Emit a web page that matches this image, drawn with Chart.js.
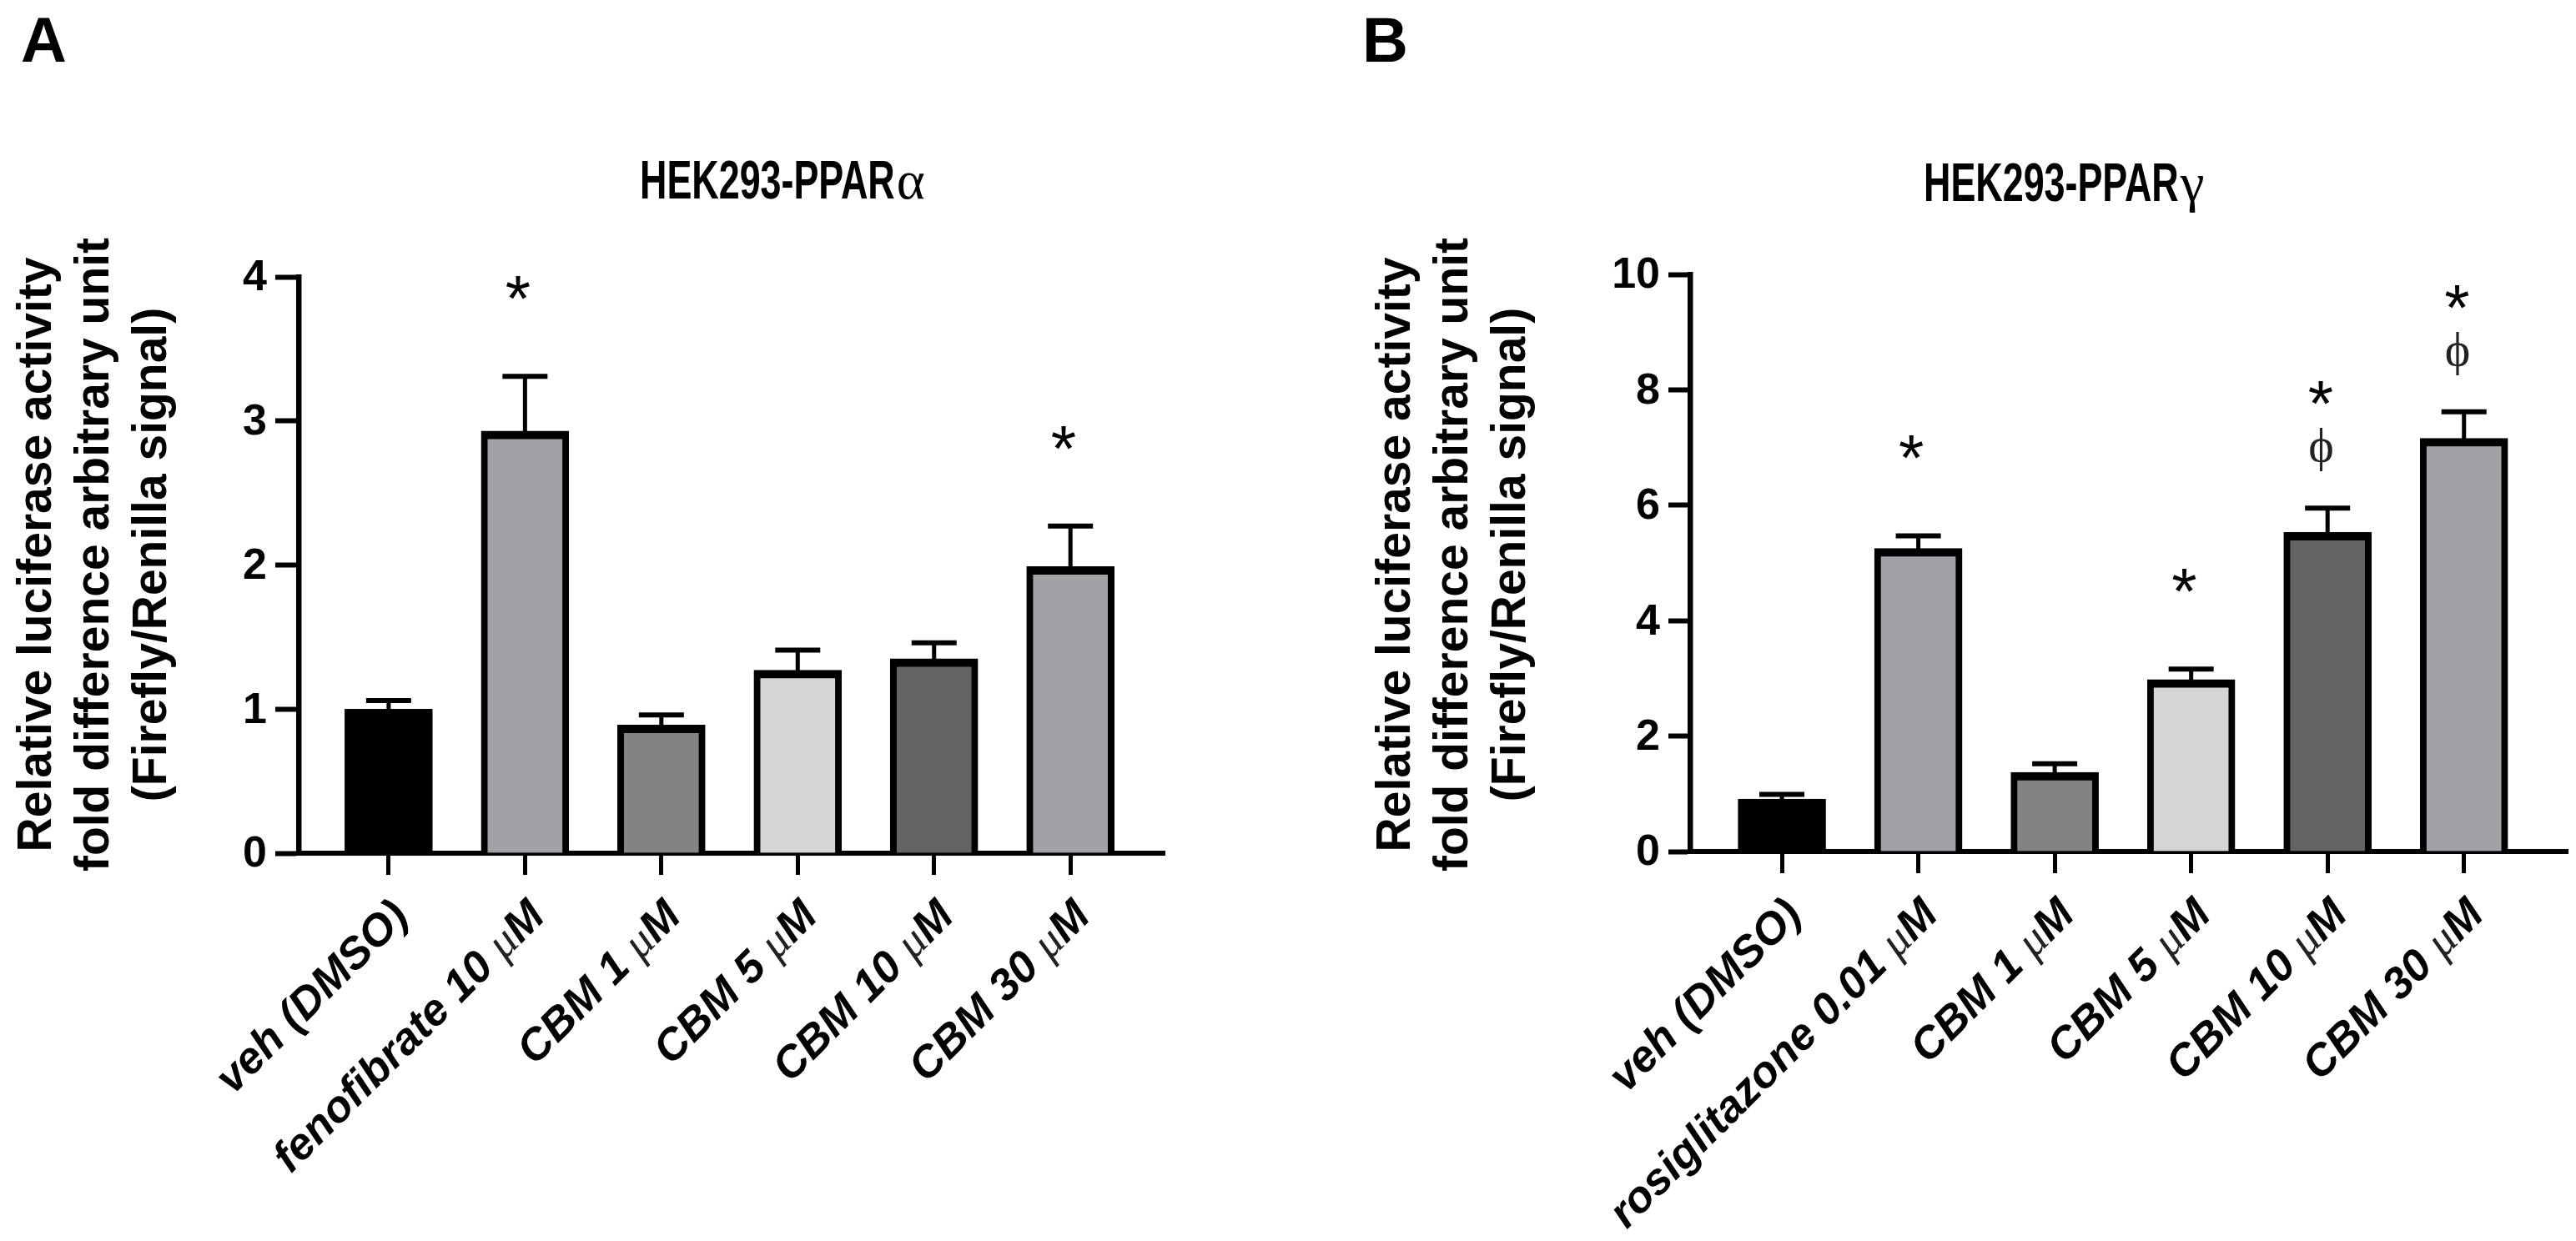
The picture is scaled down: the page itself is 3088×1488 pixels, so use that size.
<!DOCTYPE html>
<html>
<head>
<meta charset="utf-8">
<script src="https://cdn.jsdelivr.net/npm/chart.js@4.4.1/dist/chart.umd.min.js"></script>
<style>
html, body { margin: 0; padding: 0; background: #ffffff; }
#wrap { position: relative; width: 3088px; height: 1488px; background: #ffffff; }
.panel { position: absolute; top: 0; width: 1544px; height: 1488px; }
</style>
</head>
<body>
<div id="wrap">
  <div class="panel" style="left:0px;"><canvas id="chartA"></canvas></div>
  <div class="panel" style="left:1544px;"><canvas id="chartB"></canvas></div>
</div>
<script>
// ---------------- data ----------------
const categoriesA = ['veh (DMSO)', 'fenofibrate 10 μM', 'CBM 1 μM', 'CBM 5 μM', 'CBM 10 μM', 'CBM 30 μM'];
const valuesA = [1.00, 2.93, 0.89, 1.27, 1.35, 1.99];
const errorsA = [0.06, 0.38, 0.07, 0.14, 0.11, 0.28];
const starsA = [false, true, false, false, false, true];
const phiA = [false, false, false, false, false, false];
const yTicksA = [0, 1, 2, 3, 4];

const categoriesB = ['veh (DMSO)', 'rosiglitazone 0.01 μM', 'CBM 1 μM', 'CBM 5 μM', 'CBM 10 μM', 'CBM 30 μM'];
const valuesB = [0.91, 5.25, 1.37, 2.98, 5.53, 7.16];
const errorsB = [0.08, 0.22, 0.15, 0.18, 0.42, 0.46];
const starsB = [false, true, false, true, true, true];
const phiB = [false, false, false, false, true, true];
const yTicksB = [0, 2, 4, 6, 8, 10];

const titleA = ['HEK293-PPAR', 'α'];
const titleB = ['HEK293-PPAR', 'γ'];
const yTitleLines = ['Relative luciferase activity', 'fold difference arbitrary unit', '(Firefly/Renilla signal)'];

// ---------------- styles ----------------
const barColors = ['#000000', '#a2a2a6', '#838383', '#d5d5d5', '#636363', '#a2a2a6'];
const SANS = '"Liberation Sans", Arial, Helvetica, sans-serif';
const SERIF = '"Liberation Serif", "Times New Roman", "DejaVu Serif", serif';

function drawCentered(ctx, txt, font, cx, cy, color) {
  ctx.save();
  ctx.font = font;
  ctx.fillStyle = color || '#000';
  ctx.textAlign = 'left';
  ctx.textBaseline = 'alphabetic';
  const m = ctx.measureText(txt);
  const x = cx - (m.actualBoundingBoxRight - m.actualBoundingBoxLeft) / 2;
  const y = cy + (m.actualBoundingBoxAscent - m.actualBoundingBoxDescent) / 2;
  ctx.fillText(txt, x, y);
  ctx.restore();
}

function drawRotatedLabel(ctx, label, px, py) {
  const fMain = 'italic bold 53px ' + SANS;
  const fMu = 'italic 55px ' + SERIF;
  const k = label.indexOf('μ');
  ctx.save();
  ctx.translate(px, py);
  ctx.rotate(-Math.PI / 4);
  ctx.fillStyle = '#000';
  ctx.textAlign = 'right';
  ctx.textBaseline = 'alphabetic';
  if (k < 0) {
    ctx.font = fMain;
    ctx.fillText(label, 0, 0);
  } else {
    const before = label.slice(0, k);
    const after = label.slice(k + 1);
    ctx.font = fMain;
    const wA = ctx.measureText(after).width;
    ctx.fillText(after, 0, 0);
    ctx.font = fMu;
    const wM = ctx.measureText('μ').width;
    ctx.fillStyle = '#222';
    ctx.fillText('μ', -wA, 0);
    ctx.fillStyle = '#000';
    ctx.font = fMain;
    ctx.fillText(before, -wA - wM, 0);
  }
  ctx.restore();
}

const decorPlugin = {
  id: 'decor',
  afterDatasetsDraw(chart, args, o) {
    const ctx = chart.ctx;
    const xs = chart.scales.x, ys = chart.scales.y;
    ctx.save();
    ctx.strokeStyle = '#000';
    ctx.lineCap = 'butt';
    o.values.forEach((v, i) => {
      const x = xs.getPixelForValue(i);
      const yTop = ys.getPixelForValue(v);
      const yCap = ys.getPixelForValue(v + o.errors[i]);
      ctx.lineWidth = 5;
      ctx.beginPath();
      ctx.moveTo(x, yTop + 2);
      ctx.lineTo(x, yCap);
      ctx.stroke();
      ctx.lineWidth = 6;
      ctx.beginPath();
      ctx.moveTo(x - 27, yCap);
      ctx.lineTo(x + 27, yCap);
      ctx.stroke();
    });
    ctx.restore();
  },
  afterDraw(chart, args, o) {
    const ctx = chart.ctx;
    const xs = chart.scales.x, ys = chart.scales.y;
    const ca = chart.chartArea;
    ctx.save();
    ctx.fillStyle = '#000';
    // y tick labels
    ctx.font = 'bold 52px ' + SANS;
    ctx.textAlign = 'right';
    ctx.textBaseline = 'middle';
    ys.ticks.forEach(t => {
      const y = ys.getPixelForValue(t.value);
      ctx.fillText(String(t.value), ca.left - o.tickLen - 3 - o.labelPad, y + 2);
    });
    // x labels
    xs.ticks.forEach(t => {
      const i = t.value;
      const x = xs.getPixelForValue(i);
      drawRotatedLabel(ctx, o.categories[i], x + o.lblDx, ca.bottom + o.lblDy);
    });
    // significance marks
    const fStar = '78px ' + SANS;
    const fPhi = '58px ' + SERIF;
    o.values.forEach((v, i) => {
      const x = xs.getPixelForValue(i) - 8;
      const capPx = ys.getPixelForValue(v + o.errors[i]);
      if (o.phi[i]) {
        drawCentered(ctx, 'ϕ', fPhi, x, capPx - 70, '#222');
        drawCentered(ctx, '*', fStar, x, capPx - 138, '#000');
      } else if (o.stars[i]) {
        drawCentered(ctx, '*', fStar, x, capPx - 106, '#000');
      }
    });
    // title
    const sx = 0.69;
    ctx.textAlign = 'left';
    ctx.textBaseline = 'alphabetic';
    ctx.font = 'bold 65px ' + SANS;
    const wMain = ctx.measureText(o.title[0]).width * sx;
    ctx.save();
    ctx.translate(o.titleX, o.titleY);
    ctx.scale(sx, 1);
    ctx.fillText(o.title[0], 0, 0);
    ctx.restore();
    ctx.font = '65px ' + SERIF;
    ctx.fillText(o.title[1], o.titleX + wMain + 2, o.titleY);
    // y-axis title (rotated)
    ctx.font = 'bold 57px ' + SANS;
    ctx.textAlign = 'center';
    ctx.textBaseline = 'middle';
    o.yTitle.forEach((line, j) => {
      ctx.save();
      ctx.translate(o.yTitleX[j], o.yTitleY);
      ctx.rotate(-Math.PI / 2);
      ctx.fillText(line, 0, 0);
      ctx.restore();
    });
    // panel letter
    ctx.font = 'bold 76px ' + SANS;
    ctx.textAlign = 'left';
    ctx.textBaseline = 'alphabetic';
    ctx.fillText(o.letter, o.letterX, 74);
    ctx.restore();
  }
};

function makeChart(id, cfg) {
  const data = cfg.values.map((v, i) => ({ x: i, y: v }));
  return new Chart(document.getElementById(id), {
    type: 'bar',
    data: {
      datasets: [{
        data: data,
        backgroundColor: barColors,
        borderColor: '#000000',
        borderWidth: { top: 10, left: 8, right: 8, bottom: 0 },
        borderSkipped: 'start',
        barThickness: 105
      }]
    },
    plugins: [decorPlugin],
    options: {
      responsive: true,
      maintainAspectRatio: false,
      devicePixelRatio: 1,
      animation: false,
      events: [],
      layout: { padding: cfg.padding },
      plugins: {
        legend: { display: false },
        tooltip: { enabled: false },
        title: { display: false },
        decor: {
          values: cfg.values, errors: cfg.errors, stars: cfg.stars, phi: cfg.phi,
          categories: cfg.categories, tickLen: cfg.yTickLen, labelPad: 7,
          lblDx: 26, lblDy: 78,
          title: cfg.title, titleX: cfg.titleX, titleY: cfg.titleY,
          yTitle: yTitleLines, yTitleX: cfg.yTitleX, yTitleY: 665,
          letter: cfg.letter, letterX: cfg.letterX
        }
      },
      scales: {
        x: {
          type: 'linear',
          offset: false,
          min: cfg.xMin, max: cfg.xMax,
          afterBuildTicks: (s) => { s.ticks = cfg.categories.map((c, i) => ({ value: i })); },
          ticks: { display: false },
          grid: { display: true, offset: false, drawOnChartArea: false, drawTicks: true, tickLength: 26, tickWidth: 5, tickColor: '#000', color: '#000' },
          border: { display: true, color: '#000', width: 6 }
        },
        y: {
          type: 'linear',
          min: cfg.yTicks[0], max: cfg.yTicks[cfg.yTicks.length - 1],
          afterBuildTicks: (s) => { s.ticks = cfg.yTicks.map(v => ({ value: v })); },
          ticks: { display: false },
          grid: { display: true, drawOnChartArea: false, drawTicks: true, tickLength: cfg.yTickLen, tickWidth: 6, tickColor: '#000', color: '#000' },
          border: { display: true, color: '#000', width: 6.5 }
        }
      }
    }
  });
}

makeChart('chartA', {
  values: valuesA, errors: errorsA, stars: starsA, phi: phiA, categories: categoriesA, yTicks: yTicksA,
  xMin: -0.66, xMax: 5.69, yTickLen: 28,
  padding: { left: 330, right: 148, top: 332, bottom: 439 },
  title: titleA, titleX: 767, titleY: 238,
  yTitleX: [45, 114, 183], letter: 'A', letterX: 25
});

makeChart('chartB', {
  values: valuesB, errors: errorsB, stars: starsB, phi: phiB, categories: categoriesB, yTicks: yTicksB,
  xMin: -0.673, xMax: 5.76, yTickLen: 26,
  padding: { left: 456, right: 10, top: 329, bottom: 441 },
  title: titleB, titleX: 2306 - 1544, titleY: 241,
  yTitleX: [1674 - 1544, 1743 - 1544, 1812 - 1544], letter: 'B', letterX: 1633 - 1544
});
</script>
</body>
</html>
